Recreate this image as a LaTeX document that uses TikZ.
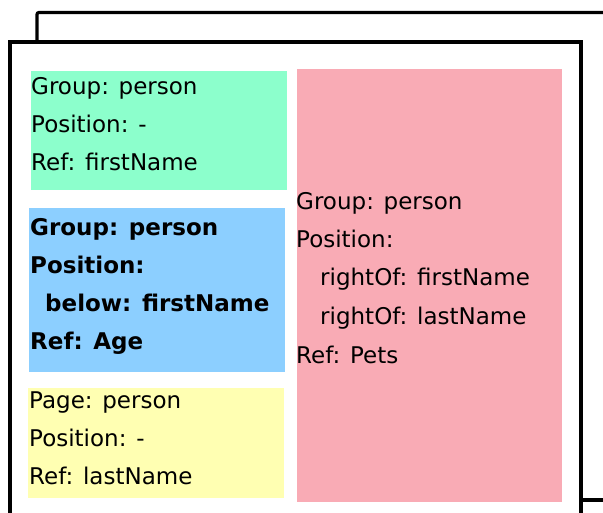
\documentclass[tikz,border=0pt]{standalone}
\usepackage{fontspec}
\setmainfont{DejaVu Sans}
\begin{document}
\definecolor{groupgreen}{RGB}{140,255,204}
\definecolor{groupblue}{RGB}{140,207,255}
\definecolor{pageyellow}{RGB}{255,255,178}
\definecolor{grouppink}{RGB}{249,171,181}
\begin{tikzpicture}[x=1pt,y=-1pt,
  frameline/.style={line width=3.2pt,black},
  panel/.style={draw=none,inner sep=0pt,outer sep=0pt,anchor=north west},
  txt/.style={inner sep=0pt,anchor=base west,font=\fontsize{23}{38}\selectfont},
  boldtxt/.style={txt,font=\fontsize{23}{38}\selectfont\bfseries}]
\useasboundingbox (0,0) rectangle (603,513);
\fill[white] (0,0) rectangle (603,513);

% back frame, only its top-left corner shows
\draw[frameline,rounded corners=2pt] (37,42) -- (37,12.5) -- (610,12.5);
% front frame
\draw[frameline] (10,520) -- (10,42) -- (581,42) -- (581,520);
\draw[frameline] (581,500) -- (610,500);

% coloured panels
\node[panel,fill=groupgreen,minimum width=256pt,minimum height=119pt] (green) at (31,71) {};
\node[panel,fill=groupblue,minimum width=256pt,minimum height=164pt] (blue) at (29,208) {};
\node[panel,fill=pageyellow,minimum width=256pt,minimum height=110pt] (yellow) at (28,388) {};
\node[panel,fill=grouppink,minimum width=265pt,minimum height=433pt] (pink) at (297,69) {};

% first name group
\node[txt] (g1) at (31,95) {Group: person};
\node[txt] (g2) at (31,133) {Position: -};
\node[txt] (g3) at (31,171) {Ref: firstName};

% age group
\node[boldtxt] (b1) at (30,236) {Group: person};
\node[boldtxt] (b2) at (30,274) {Position:};
\node[boldtxt] (b3) at (45,312) {below: firstName};
\node[boldtxt] (b4) at (30,350) {Ref: Age};

% last name page
\node[txt] (y1) at (29,408) {Page: person};
\node[txt] (y2) at (29,446) {Position: -};
\node[txt] (y3) at (29,484) {Ref: lastName};

% pets group
\node[txt] (p1) at (296,210) {Group: person};
\node[txt] (p2) at (296,248) {Position:};
\node[txt] (p3) at (320,286) {rightOf: firstName};
\node[txt] (p4) at (320,325) {rightOf: lastName};
\node[txt] (p5) at (296,363) {Ref: Pets};
\end{tikzpicture}
\end{document}
